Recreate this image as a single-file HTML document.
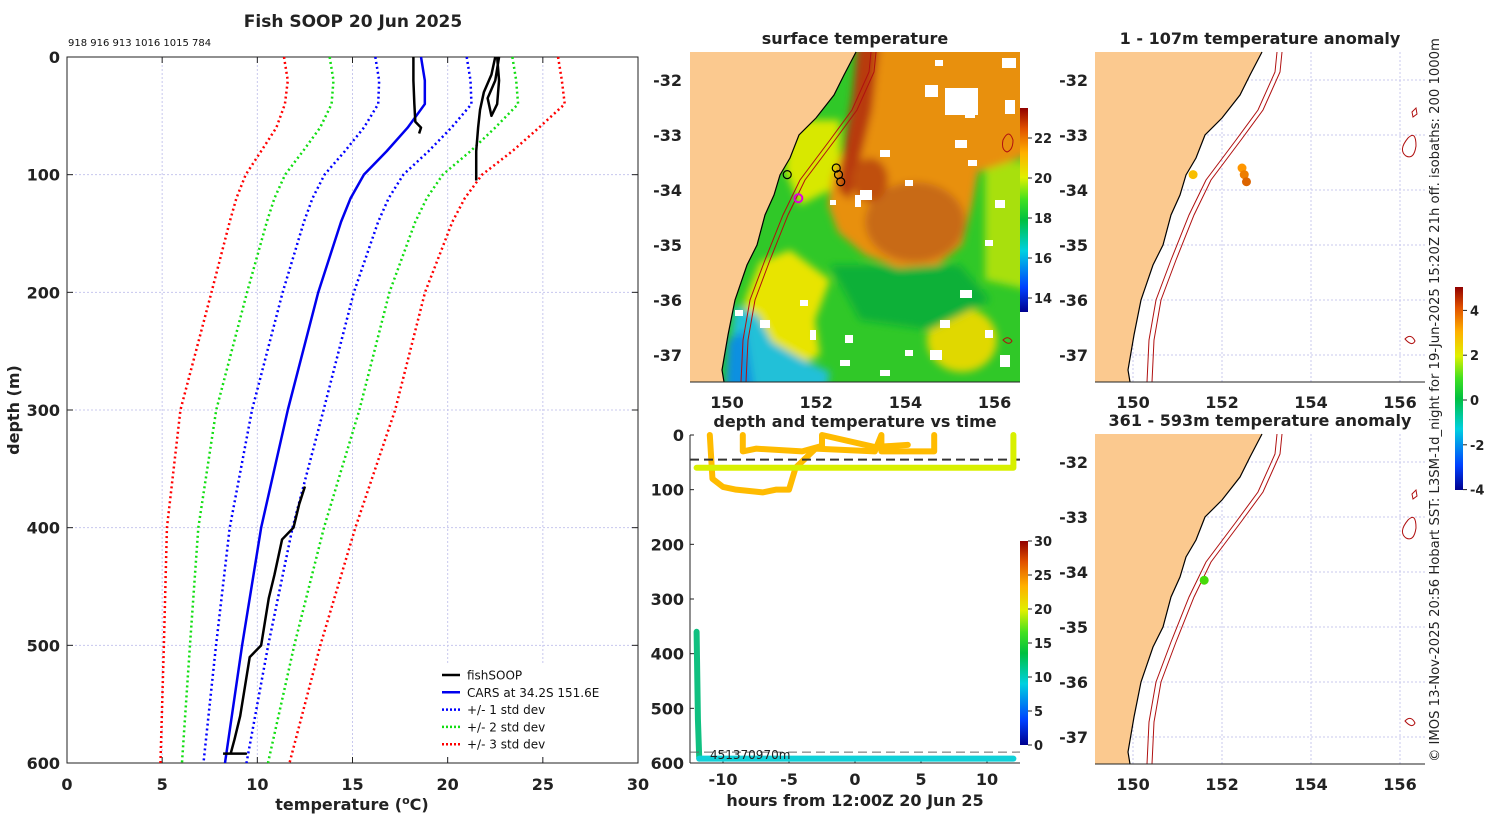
<!DOCTYPE html>
<html><head><meta charset="utf-8"><style>
html,body{margin:0;padding:0;background:#fff}
svg{display:block}
text{font-family:"DejaVu Sans","Liberation Sans",sans-serif}
.b{font-weight:bold;fill:#222}
</style></head><body>
<svg id="s" width="1500" height="820" viewBox="0 0 1500 820" xmlns="http://www.w3.org/2000/svg">
<defs>
<linearGradient id="jet" x1="0" y1="1" x2="0" y2="0">
<stop offset="0" stop-color="#00008f"/><stop offset="0.12" stop-color="#0040ff"/><stop offset="0.3" stop-color="#00d0e0"/><stop offset="0.45" stop-color="#00c040"/><stop offset="0.55" stop-color="#40e020"/><stop offset="0.66" stop-color="#e0f000"/><stop offset="0.78" stop-color="#ffb000"/><stop offset="0.9" stop-color="#e05000"/><stop offset="1" stop-color="#900000"/>
</linearGradient>
<filter id="blur4"><feGaussianBlur stdDeviation="4"/></filter>
<clipPath id="mapclip"><rect x="690" y="52" width="330" height="330"/></clipPath>
</defs>
<g id="g"></g>
</svg>
<script>
// ---------- Data ----------
const depthLevels=[0,20,40,60,80,100,120,140,200,300,400,500,600];
const carsMean=[18.6,18.8,18.8,17.9,16.8,15.6,14.9,14.4,13.2,11.6,10.2,9.2,8.3];
const carsStd=[2.4,2.4,2.45,2.3,2.2,2.07,2.0,1.95,1.87,1.88,1.65,1.37,1.13];
const soopDepthA=[0,20,40,55,60,65];
const soopTempA=[18.2,18.2,18.25,18.3,18.6,18.5];
const soopDepthB=[0,15,30,45,60,80,105];
const soopTempB=[22.5,22.3,21.9,21.7,21.6,21.5,21.5];
const soopDepthC=[0,20,35,50,40,20,0];
const soopTempC=[22.7,22.5,22.1,22.3,22.6,22.7,22.6];
const soopDepthD=[365,380,400,410,440,460,500,510,540,560,580,592,592,592];
const soopTempD=[12.5,12.2,11.9,11.3,10.9,10.6,10.2,9.6,9.3,9.1,8.8,8.6,9.4,8.2];
const tempTicks=[0,5,10,15,20,25,30];
const depthTicks=[0,100,200,300,400,500,600];
// depth-time tracks
const trkHoursDeep=[-12,-11.9,-11.8,12];
const trkDepthDeep=[360,520,592,592];
const trkHoursMid=[-12,12,12];
const trkDepthMid=[60,60,0];
const trkHoursWarm=[-11,-10.8,-10,-9,-7,-6,-5,-4.5,-3,1.5,2,2,6,6];
const trkDepthWarm=[0,80,95,100,105,100,100,60,25,30,0,30,30,0];
const trkHoursWarm2=[-8.5,-8.5,-7.5,-4,-2.5,-2.5,1.5,4];
const trkDepthWarm2=[0,30,25,30,20,0,22,18];
const hourTicks=[-10,-5,0,5,10];
// map markers
const profLon=[151.35,152.45,152.5,152.55];
const profLat=[-33.72,-33.6,-33.72,-33.85];
const profAnomShallow=[2.2,2.8,3.0,3.2];
const deepLon=[151.6];const deepLat=[-34.15];const deepAnom=[0.3];
const sstTicks=[14,16,18,20,22];
const anomTicks=[-4,-2,0,2,4];
const latTicks=[-32,-33,-34,-35,-36,-37];
const lonTicks=[150,152,154,156];

const NS='http://www.w3.org/2000/svg';
const G=document.getElementById('g');
function el(t,a,p){const e=document.createElementNS(NS,t);for(const k in a)e.setAttribute(k,a[k]);(p||G).appendChild(e);return e;}
function txt(x,y,s,a,p){const e=el('text',Object.assign({x:x,y:y},a||{}),p);e.textContent=s;return e;}

// ---------- Left profile ----------
const X=t=>67+t*571/30, Y=d=>57+d*706/600;
let g1=el('g',{});


tempTicks.forEach(t=>{
 if(t>0&&t<30){el('line',{x1:X(t),x2:X(t),y1:57,y2:763,stroke:'#c8c8ee','stroke-dasharray':'2,2','stroke-width':1},g1);}
 const tl=txt(X(t),790,t,{class:'b','font-size':16,'text-anchor':'middle'},g1);
 
 el('line',{x1:X(t),x2:X(t),y1:57,y2:63,stroke:'#222'},g1);el('line',{x1:X(t),x2:X(t),y1:763,y2:757,stroke:'#222'},g1);
});
depthTicks.forEach(d=>{
 if(d>0&&d<600)el('line',{x1:67,x2:638,y1:Y(d),y2:Y(d),stroke:'#c8c8ee','stroke-dasharray':'2,2'},g1);
 const tl=txt(60,Y(d)+6,d,{class:'b','font-size':16,'text-anchor':'end'},g1);
 
 el('line',{x1:67,x2:73,y1:Y(d),y2:Y(d),stroke:'#222'},g1);el('line',{x1:638,x2:632,y1:Y(d),y2:Y(d),stroke:'#222'},g1);
});
el('rect',{x:67,y:57,width:571,height:706,fill:'none',stroke:'#222','stroke-width':1},g1);
function prof(ts,ds,col,w,dash,name){
 const p=el('polyline',{points:ts.map((t,i)=>X(t)+','+Y(ds[i])).join(' '),fill:'none',stroke:col,'stroke-width':w,'stroke-dasharray':dash||'none','stroke-linejoin':'round'},g1);
 
}
[[3,'#f00','red'],[2,'#1d1','green'],[1,'#00f','blue']].forEach(([k,c,n])=>{
 prof(carsMean.map((m,i)=>m-k*carsStd[i]),depthLevels,c,2.5,'2,3','std-'+k+'-lower');
 prof(carsMean.map((m,i)=>m+k*carsStd[i]),depthLevels,c,2.5,'2,3','std-'+k+'-upper');
});
prof(carsMean,depthLevels,'#0000ee',2.5,null,'cars-mean-line');
prof(soopTempA,soopDepthA,'#000',2.5,null,'fishsoop-profile-a');
prof(soopTempB,soopDepthB,'#000',2.5,null,'fishsoop-profile-b');
prof(soopTempC,soopDepthC,'#000',2.5,null,'fishsoop-profile-c');
prof(soopTempD,soopDepthD,'#000',2.5,null,'fishsoop-profile-d');
let t=txt(353,27,'Fish SOOP 20 Jun 2025',{class:'b','font-size':17,'text-anchor':'middle','fill':'#111'});

t=txt(68,46,'918 916 913 1016 1015 784',{'font-size':10,fill:'#111'});

t=txt(352,810,'',{class:'b','font-size':16,'text-anchor':'middle'});
t.innerHTML='temperature (<tspan font-size="11" dy="-6">o</tspan><tspan dy="6">C)</tspan>';

t=txt(0,0,'depth (m)',{class:'b','font-size':16,'text-anchor':'middle',transform:'translate(19,410) rotate(-90)'});

// legend
let lg=el('g',{});
el('rect',{x:438,y:665,width:179,height:90,fill:'#fff',stroke:'#fff'},lg);
[['fishSOOP','#000',null],['CARS at 34.2S 151.6E','#00e',null],['+/- 1 std dev','#00f','2,2'],['+/- 2 std dev','#1d1','2,2'],['+/- 3 std dev','#f00','2,2']].forEach((e,i)=>{
 const yy=675+i*17.3;
 const le=el('g',{},lg);
 el('line',{x1:442,x2:460,y1:yy,y2:yy,stroke:e[1],'stroke-width':2.5,'stroke-dasharray':e[2]||'none'},le);
 txt(467,yy+4.5,e[0],{'font-size':12,fill:'#111'},le);
});

// ---------- Map helpers ----------
function mapG(name){const g=el('g',{});return g;}
const coastR=[[1262,52],[1250,75],[1240,95],[1222,118],[1205,135],[1196,158],[1186,175],[1180,195],[1171,215],[1163,245],[1153,265],[1141,300],[1134,335],[1128,370],[1130,382]];
const isoR=[[1277,52],[1275,72],[1258,110],[1236,140],[1206,180],[1189,215],[1171,260],[1156,300],[1149,340],[1147,382]];
function pts(a,dx,dy){return a.map(p=>(p[0]+dx)+','+(p[1]+dy)).join(' ');}
function landPoly(g,dx,dy,x0){
 el('polygon',{points:x0+','+(52+dy)+' '+pts(coastR,dx,dy)+' '+x0+','+(382+dy),fill:'#fbc98f',stroke:'none'},g);
 el('polyline',{points:pts(coastR,dx,dy),fill:'none',stroke:'#000','stroke-width':1.2},g);
 el('polyline',{points:pts(isoR,dx,dy),fill:'none',stroke:'#b01010','stroke-width':1},g);
 el('polyline',{points:pts(isoR.map(p=>[p[0]+5,p[1]]),dx,dy),fill:'none',stroke:'#b01010','stroke-width':1},g);
}
function anomCol(v){const f=(v+4)/8;const stops=[[0,[0,0,143]],[0.25,[0,120,255]],[0.45,[0,200,80]],[0.55,[80,220,0]],[0.7,[240,230,0]],[0.85,[255,150,0]],[1,[150,0,0]]];
 for(let i=1;i<stops.length;i++){if(f<=stops[i][0]){const a=stops[i-1],b=stops[i],u=(f-a[0])/(b[0]-a[0]);return 'rgb('+a[1].map((c,k)=>Math.round(c+(b[1][k]-c)*u)).join(',')+')';}}return 'rgb(150,0,0)';}

// ---------- SST map ----------
const mX=lon=>727+(lon-150)*44.6, mY=lat=>80+(-32-lat)*55;
let g2=mapG('surface-temperature-map');
el('rect',{x:690,y:52,width:330,height:330,fill:'#30c828'},g2);
let clipG=el('g',{'clip-path':'url(#mapclip)'},g2);
let blur=el('g',{filter:'url(#blur4)'},clipG);
el('polygon',{points:'985,162 1030,162 1030,290 985,280',fill:'#a8e010'},blur);
el('polygon',{points:'790,120 840,120 840,185 800,205 785,170',fill:'#d8e800'},blur);
el('polygon',{points:'745,300 760,262 790,250 830,280 815,320 820,355 790,370 740,370',fill:'#e8e400'},blur);
el('ellipse',{cx:962,cy:340,rx:35,ry:32,fill:'#e0d800'},blur);
el('polygon',{points:'830,265 960,265 990,300 930,330 860,320',fill:'#10b038'},blur);
el('polygon',{points:'858,40 1030,40 1030,155 978,172 972,205 962,245 938,265 898,268 865,255 838,232 828,205 832,178 845,145 852,112 858,78',fill:'#e8900c'},blur);
el('ellipse',{cx:915,cy:222,rx:50,ry:40,fill:'#c86a18'},blur);
el('polygon',{points:'858,40 880,40 872,110 860,160 850,200 838,190 845,140 852,100',fill:'#b83a08'},blur);
el('ellipse',{cx:870,cy:180,rx:18,ry:22,fill:'#c05010'},blur);
el('polygon',{points:'735,305 758,315 772,342 800,358 830,372 825,395 725,395',fill:'#20c0d8'},blur);
el('polygon',{points:'728,340 745,330 755,395 725,395',fill:'#1090e0'},blur);
[[945,88,33,27],[925,85,13,12],[1002,58,14,10],[935,60,8,6],[965,110,10,8],[955,140,12,8],[880,150,10,7],[860,190,12,10],[855,195,6,12],[968,160,9,6],[905,180,8,6],[830,200,6,5],[995,200,10,8],[985,240,8,6],[960,290,12,8],[940,320,10,8],[930,350,12,10],[985,330,8,8],[1000,355,10,12],[800,300,8,6],[810,330,6,10],[760,320,10,8],[845,335,8,8],[840,360,10,6],[905,350,8,6],[880,370,10,6],[735,310,8,6],[1005,100,10,14]].forEach(c=>el('rect',{x:c[0],y:c[1],width:c[2],height:c[3],fill:'#fff'},g2));
landPoly(g2,-406,0,690);
el('path',{d:'M1003 140 q6 -12 10 0 q0 10 -6 12 q-6 -2 -4 -12z M1003 340 q5 -5 9 1 q-3 5 -9 -1z',fill:'none',stroke:'#b01010'},g2);
profLon.forEach((lo,i)=>{const c=el('circle',{cx:mX(lo),cy:mY(profLat[i]),r:4,fill:'none',stroke:'#000','stroke-width':1.2},g2);});
el('circle',{cx:mX(deepLon[0]),cy:mY(deepLat[0]),r:4,fill:'none',stroke:'#e000e0','stroke-width':2},g2);
el('line',{x1:690,x2:1020,y1:382,y2:382,stroke:'#222'},g2);
t=txt(855,44,'surface temperature',{class:'b','font-size':16,'text-anchor':'middle',fill:'#111'});
latTicks.forEach(la=>{txt(682,mY(la)+6,la,{class:'b','font-size':16,'text-anchor':'end'},g2);});
lonTicks.forEach(lo=>{txt(mX(lo),408,lo,{class:'b','font-size':16,'text-anchor':'middle'},g2);});
let cb=el('g',{});
el('rect',{x:1020,y:108,width:8,height:204,fill:'url(#jet)'},cb);
const sY=v=>312-(v-13.3)*204/10.2;
sstTicks.forEach(v=>{el('line',{x1:1028,x2:1032,y1:sY(v),y2:sY(v),stroke:'#222'},cb);txt(1034,sY(v)+5,v,{class:'b','font-size':13},cb);});

// ---------- Depth vs time ----------
const hX=h=>855+h*13.2, dY=d=>435+d*328/600;
let g3=mapG('depth-time-plot');
el('line',{x1:690,x2:690,y1:435,y2:763,stroke:'#222'},g3);
el('line',{x1:690,x2:1020,y1:763,y2:763,stroke:'#222'},g3);
depthTicks.forEach(d=>{el('line',{x1:690,x2:694,y1:dY(d),y2:dY(d),stroke:'#222'},g3);txt(684,dY(d)+6,d,{class:'b','font-size':16,'text-anchor':'end'},g3);});
hourTicks.forEach(h=>{el('line',{x1:hX(h),x2:hX(h),y1:763,y2:759,stroke:'#222'},g3);txt(hX(h),785,h,{class:'b','font-size':16,'text-anchor':'middle'},g3);});
function trk(hs,ds,col,name){const p=el('polyline',{points:hs.map((h,i)=>hX(h)+','+dY(ds[i])).join(' '),fill:'none',stroke:col,'stroke-width':6,'stroke-linejoin':'round','stroke-linecap':'round'},g3);}
trk(trkHoursWarm,trkDepthWarm,'#ffbb00','track-warm');
trk(trkHoursWarm2,trkDepthWarm2,'#ffbb00','track-warm-2');
el('line',{x1:690,x2:1020,y1:dY(45),y2:dY(45),stroke:'#333','stroke-width':2,'stroke-dasharray':'9,5'},g3);
trk(trkHoursMid,trkDepthMid,'#d8f000','track-mid');
trk(trkHoursDeep.slice(0,3),trkDepthDeep.slice(0,3),'#10c080','track-deep-descent');
trk(trkHoursDeep.slice(2),trkDepthDeep.slice(2),'#10d0d8','track-deep-bottom');
el('line',{x1:690,x2:1020,y1:dY(580),y2:dY(580),stroke:'#666','stroke-width':1,'stroke-dasharray':'9,5'},g3);
txt(710,759,'451370970m',{'font-size':12,fill:'#222'},g3);
t=txt(855,427,'depth and temperature vs time',{class:'b','font-size':16,'text-anchor':'middle',fill:'#111'});
t=txt(855,806,'hours from 12:00Z 20 Jun 25',{class:'b','font-size':16,'text-anchor':'middle'});
let cb2=el('g',{});
el('rect',{x:1020,y:541,width:8,height:204,fill:'url(#jet)'},cb2);
[0,5,10,15,20,25,30].forEach(v=>{const y=745-v*6.8;el('line',{x1:1028,x2:1032,y1:y,y2:y,stroke:'#222'},cb2);txt(1034,y+5,v,{class:'b','font-size':13},cb2);});

// ---------- Anomaly maps ----------
const rX=lon=>1133+(lon-150)*44.5;
function anomMap(dy,title,lons,lats,vals,name){
 const g=mapG(name);const rY=lat=>80+dy+(-32-lat)*55;
 latTicks.forEach(la=>{el('line',{x1:1095,x2:1425,y1:rY(la),y2:rY(la),stroke:'#c8c8ee','stroke-dasharray':'2,2'},g);txt(1088,rY(la)+6,la,{class:'b','font-size':16,'text-anchor':'end'},g);});
 lonTicks.forEach(lo=>{el('line',{x1:rX(lo),x2:rX(lo),y1:52+dy,y2:382+dy,stroke:'#c8c8ee','stroke-dasharray':'2,2'},g);txt(rX(lo),408+dy,lo,{class:'b','font-size':16,'text-anchor':'middle'},g);});
 landPoly(g,0,dy,1095);
 el('path',{d:`M1408 ${138+dy} q8 -8 8 8 q-2 14 -10 10 q-8 -6 2 -18z M1412 ${112+dy} l4 -4 l1 6 l-4 3z M1405 ${339+dy} q6 -6 10 2 q-3 6 -10 -2z`,fill:'none',stroke:'#b01010'},g);
 el('line',{x1:1095,x2:1425,y1:382+dy,y2:382+dy,stroke:'#222'},g);
 lons.forEach((lo,i)=>{const c=el('circle',{cx:rX(lo),cy:rY(lats[i]),r:4.5,fill:anomCol(vals[i])},g);});
 txt(1260,44+dy,title,{class:'b','font-size':16,'text-anchor':'middle',fill:'#111'},g);
}
anomMap(0,'1 - 107m temperature anomaly',profLon,profLat,profAnomShallow,'shallow-anomaly-map');
anomMap(382,'361 - 593m temperature anomaly',deepLon,deepLat,deepAnom,'deep-anomaly-map');
let cb3=el('g',{});
el('rect',{x:1455,y:287,width:8,height:203,fill:'url(#jet)'},cb3);
anomTicks.forEach(v=>{const y=400-v*22.4;el('line',{x1:1463,x2:1467,y1:y,y2:y,stroke:'#222'},cb3);txt(1470,y+5,v,{class:'b','font-size':13},cb3);});
t=txt(0,0,'© IMOS 13-Nov-2025 20:56 Hobart SST: L3SM-1d_night for 19-Jun-2025 15:20Z 21h off. isobaths: 200  1000m',{'font-size':13.2,fill:'#222','text-anchor':'middle',transform:'translate(1439,400) rotate(-90)'});

</script>
</body></html>
